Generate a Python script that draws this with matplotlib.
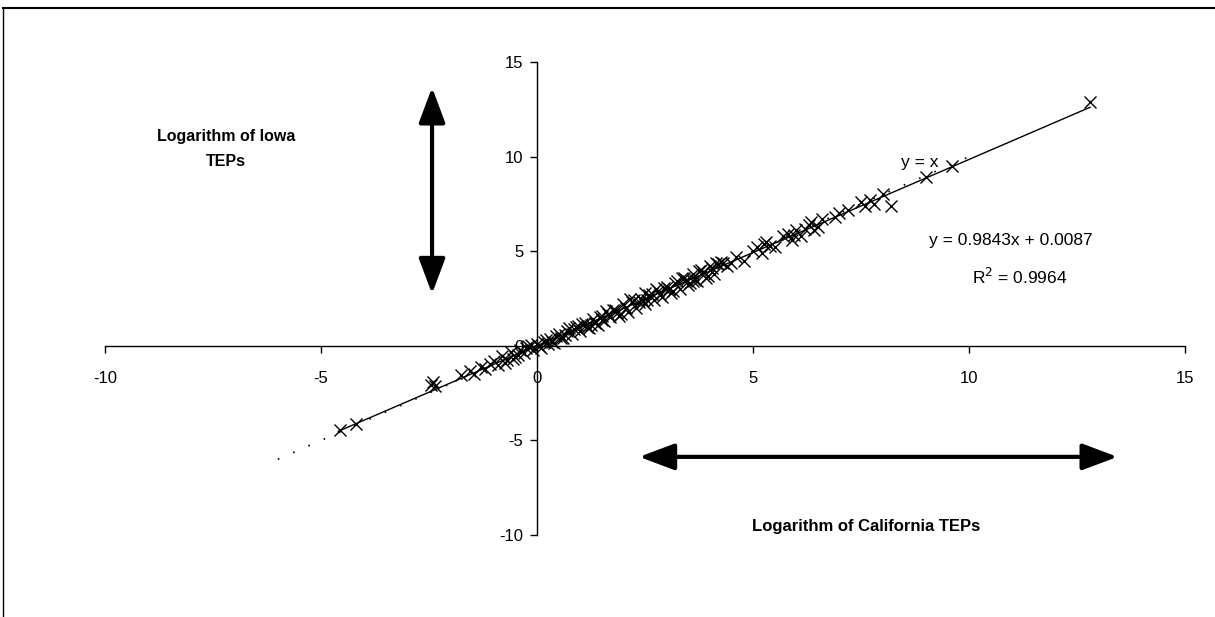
import numpy as np
import matplotlib.pyplot as plt
from matplotlib.patches import FancyArrowPatch

plt.rcParams['font.family'] = ['Liberation Sans', 'DejaVu Sans']
plt.rcParams['axes.unicode_minus'] = False

# log California TEPs (x) vs log Iowa TEPs (y)
cal_log = [-4.55, -4.2, -2.4, -2.35, -2.45, -1.75, -1.55, -1.45, -1.3, -1.2,
           -1.0, -0.9, -0.8, -0.7, -0.6, -0.5, -0.4, -0.3, -0.2, -0.1,
           0.0, 0.1, 0.15, 0.3, 0.4, 0.5, 0.6, 0.7, 0.8, 0.9,
           1.0, 1.1, 1.2, 1.3, 1.4, 1.5, 1.55, 1.7, 1.8, 1.9,
           2.0, 2.1, 2.2, 2.3, 2.4, 2.5, 2.6, 2.7, 2.8, 2.9,
           3.0, 3.1, 3.2, 3.3, 3.4, 3.5, 3.6, 3.7, 3.8, 3.9,
           4.0, 4.1, 4.2, 4.4, 4.6, 4.8, 5.1, 5.2, 5.3, 5.5,
           5.7, 5.9, 6.0, 6.1, 6.3, 6.4, 6.6, 6.9, 7.2, 7.5,
           7.6, 7.8, 8.0, 8.2, 9.0, 9.6, 12.8,
           -1.1, -0.75, -0.45, -0.25, 0.05, 0.25, 0.45, 0.65, 0.85, 1.05,
           1.25, 1.45, 1.65, 1.85, 2.05, 2.25, 2.45, 2.65, 2.85, 3.05,
           3.25, 3.45, 3.65, 3.85, 4.05, 4.3, 4.5, 5.0, 5.4, 5.8,
           6.2, 6.5, 7.0, 7.7, 0.2, 0.55, 1.15, 1.75, 2.35, 2.95,
           -0.55, -0.15, 0.35, 0.75, 1.35, 1.6, 1.95, 2.15, 2.55, 2.75,
           3.15, 3.35, 3.55, 3.75, 3.95, 4.15, 0.95, 1.5, 2.5, 3.6,
           4.25, 5.25, 5.95, 6.35]
iowa_log = [-4.45, -4.15, -1.9, -2.1, -2.05, -1.55, -1.35, -1.5, -1.1, -1.2,
            -0.8, -1.0, -0.55, -0.75, -0.35, -0.6, -0.2, -0.4, 0.0, -0.2,
            0.1, -0.1, 0.2, 0.35, 0.15, 0.6, 0.4, 0.8, 0.6, 1.0,
            0.8, 1.2, 0.95, 1.4, 1.1, 1.6, 1.3, 1.5, 1.9, 1.6,
            2.2, 1.8, 2.3, 2.0, 2.5, 2.2, 2.7, 2.4, 2.9, 2.6,
            3.1, 2.8, 3.3, 3.0, 3.6, 3.2, 3.8, 3.4, 4.0, 3.6,
            4.2, 3.8, 4.3, 4.2, 4.7, 4.5, 5.2, 4.9, 5.5, 5.2,
            5.8, 5.6, 6.1, 5.8, 6.4, 6.1, 6.7, 6.8, 7.2, 7.6,
            7.4, 7.5, 8.0, 7.4, 8.9, 9.5, 12.9,
            -0.95, -0.9, -0.5, -0.1, 0.0, 0.1, 0.5, 0.55, 0.9, 1.15,
            1.1, 1.5, 1.7, 1.75, 2.0, 2.4, 2.35, 2.75, 2.7, 3.0,
            3.4, 3.5, 3.5, 3.9, 4.1, 4.4, 4.4, 5.0, 5.3, 5.9,
            6.2, 6.3, 7.0, 7.7, 0.3, 0.4, 1.0, 1.9, 2.3, 3.05,
            -0.7, 0.05, 0.2, 0.95, 1.2, 1.85, 1.7, 2.45, 2.4, 3.0,
            2.9, 3.6, 3.3, 3.95, 3.7, 4.4, 1.05, 1.35, 2.8, 3.45,
            4.45, 5.4, 5.85, 6.55]

slope = 0.9843
intercept = 0.0087
fit_x = [-4.6, 12.8]
ident_x = [-6.0, 10.0]

fig = plt.figure(figsize=(12.15, 6.17), dpi=100)
ax = fig.add_axes([0.0864, 0.1329, 0.889, 0.7666])

ax.plot(ident_x, ident_x, color='black', lw=1.2, ls=(0, (1, 9)))
ax.plot(fit_x, [slope * v + intercept for v in fit_x], color='black', lw=1.0)
ax.plot(cal_log, iowa_log, ls='none', marker='x', ms=9, mew=1.0, color='black')

ax.set_xlim(-10, 15)
ax.set_ylim(-10, 15)
ax.set_xticks([-10, -5, 0, 5, 10, 15])
ax.set_yticks([-10, -5, 0, 5, 10, 15])

ax.spines['left'].set_position(('data', 0))
ax.spines['bottom'].set_position(('data', 0))
ax.spines['right'].set_visible(False)
ax.spines['top'].set_visible(False)
for s in ('left', 'bottom'):
    ax.spines[s].set_linewidth(1.0)
ax.tick_params(axis='x', direction='out', length=5, width=1, pad=13, labelsize=12)
ax.tick_params(axis='y', direction='out', length=5, width=1, pad=5, labelsize=12)
ax.patch.set_visible(False)

# direction arrows
astyle = '<|-|>,head_length=1.2,head_width=0.45'
ax.add_patch(FancyArrowPatch((-2.43, 2.6), (-2.43, 13.8), arrowstyle=astyle,
                             mutation_scale=18, lw=3, color='black'))
ax.add_patch(FancyArrowPatch((2.3, -5.87), (13.5, -5.87), arrowstyle=astyle,
                             mutation_scale=18, lw=3, color='black'))

fig.text(226 / 1215, 1 - 136 / 617, 'Logarithm of Iowa', ha='center', va='center',
         fontsize=11.5, fontweight='bold')
fig.text(226 / 1215, 1 - 161 / 617, 'TEPs', ha='center', va='center',
         fontsize=11.5, fontweight='bold')
fig.text(866 / 1215, 1 - 526 / 617, 'Logarithm of California TEPs', ha='center', va='center',
         fontsize=12, fontweight='bold')

fig.text(920 / 1215, 1 - 163 / 617, 'y = x', ha='center', va='center', fontsize=12.5)
fig.text(1011 / 1215, 1 - 240 / 617, 'y = 0.9843x + 0.0087', ha='center', va='center', fontsize=12.5)
fig.text(1020 / 1215, 1 - 277 / 617, 'R$^2$ = 0.9964', ha='center', va='center', fontsize=12.5)

# outer frame (left and top edges show in the scan)
fig.add_artist(plt.Line2D([3 / 1215, 3 / 1215], [0, 1 - 8 / 617], transform=fig.transFigure,
                          color='black', lw=1))
fig.add_artist(plt.Line2D([3 / 1215, 1], [1 - 8 / 617, 1 - 8 / 617], transform=fig.transFigure,
                          color='black', lw=1.5))

fig.savefig('out.png', dpi=100)
